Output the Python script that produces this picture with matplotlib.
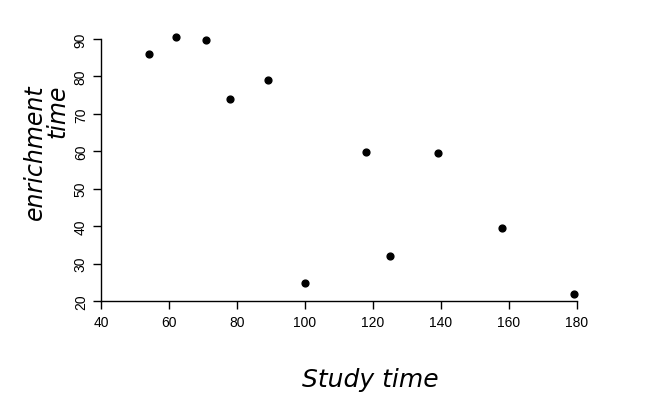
import matplotlib
matplotlib.use("Agg")
import matplotlib.pyplot as plt

study_time = [54, 62, 71, 78, 89, 100, 118, 125, 139, 158, 179]
enrichment_time = [86, 90.5, 89.7, 74, 79, 24.8, 59.8, 32, 59.5, 39.5, 22]
x_ticks = [40, 60, 80, 100, 120, 140, 160, 180]
y_ticks = [20, 30, 40, 50, 60, 70, 80, 90]

fig = plt.figure(figsize=(6.71, 4.10), dpi=100)
ax = fig.add_axes([101/671, (410-302)/410, 476/671, 262/410])
ax.scatter(study_time, enrichment_time, s=24, color="black", marker="o", clip_on=False, zorder=3)

ax.set_xlim(40, 180)
ax.set_ylim(20, 90)
for s in ["top", "right"]:
    ax.spines[s].set_visible(False)
ax.spines["left"].set_bounds(20, 90)
ax.spines["bottom"].set_bounds(40, 180)
ax.spines["bottom"].set_linewidth(1.0)
ax.spines["left"].set_linewidth(1.0)
ax.set_xticks(x_ticks)
ax.set_yticks(y_ticks)
ax.tick_params(axis="both", length=6, width=1, labelsize=10, direction="out")
ax.tick_params(axis="x", pad=4)
for lab in ax.get_xticklabels():
    lab.set_fontfamily("Liberation Sans")
for lab in ax.get_yticklabels():
    lab.set_fontfamily("Liberation Sans")
    lab.set_rotation(90)
    lab.set_va("center")

fig.text(370/671, 1 - 380/410, "Study time", fontsize=18, style="italic",
         family="DejaVu Sans", fontweight="light", ha="center", va="center")
fig.text(46/671, 1 - 152/410, "enrichment\ntime", fontsize=17, style="italic",
         family="DejaVu Sans", fontweight="light", rotation=90, ha="center", va="center",
         multialignment="right", linespacing=0.9)

fig.savefig("out.png", dpi=100)
